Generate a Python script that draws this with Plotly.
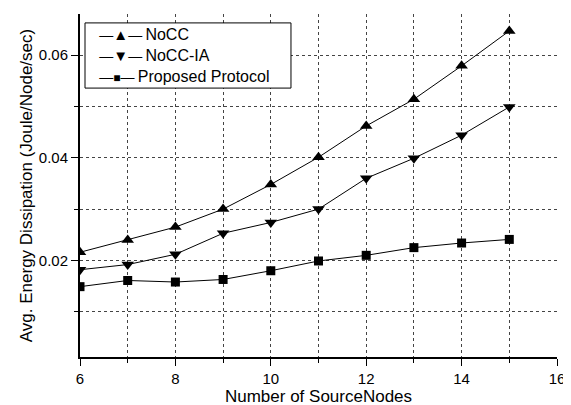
import plotly.graph_objects as go

x_nodes = [6, 7, 8, 9, 10, 11, 12, 13, 14, 15]
nocc = [0.0216, 0.0240, 0.0265, 0.0300, 0.0348, 0.0401, 0.0462, 0.0514, 0.0579, 0.0647]
nocc_ia = [0.0182, 0.0192, 0.0212, 0.0253, 0.0274, 0.0300, 0.0360, 0.0399, 0.0444, 0.0499]
proposed = [0.0149, 0.0161, 0.0158, 0.0163, 0.0180, 0.0199, 0.0210, 0.0225, 0.0234, 0.0241]

series_names = ["NoCC", "NoCC-IA", "Proposed Protocol"]
series_glyphs = ["▲", "▼", "■"]

x_major = [6, 8, 10, 12, 14, 16]
y_major = [0.02, 0.04, 0.06]

font_family = "Liberation Sans, Arial, sans-serif"

fig = go.Figure()
series = [
    (series_names[0], nocc, "triangle-up", 11),
    (series_names[1], nocc_ia, "triangle-down", 11),
    (series_names[2], proposed, "square", 9),
]
for name, vals, sym, sz in series:
    fig.add_trace(go.Scatter(
        x=x_nodes, y=vals, name=name, mode="lines+markers",
        line=dict(color="black", width=1),
        marker=dict(symbol=sym, size=sz, color="black"),
        showlegend=False,
    ))

# Origin-style legend: framed box with text entries
fig.add_shape(
    type="rect", xref="paper", yref="paper",
    x0=0.0105, x1=0.4423, y0=0.784, y1=0.974,
    line=dict(color="black", width=1), fillcolor="white", layer="above",
)
glyph_sizes = [15, 15, 12]
legend_lines = []
for name, g, gs in zip(series_names, series_glyphs, glyph_sizes):
    legend_lines.append(
        "\u00a0\u00a0\u00a0<span style='font-size:14px'>—</span>"
        "<span style='font-size:%dpx'>%s</span>"
        "<span style='font-size:14px'>—</span>\u2009%s" % (gs, g, name)
    )
fig.add_annotation(
    xref="paper", yref="paper", x=0.0105, y=0.968,
    xanchor="left", yanchor="top", showarrow=False,
    text="<br>".join(legend_lines), align="left",
    font=dict(size=16, family=font_family, color="black"),
    borderpad=0,
)

# page is offset 8px by body margin; compensate
fig.update_layout(
    width=571, height=405,
    margin=dict(l=72, r=22, t=6, b=56),
    paper_bgcolor="white", plot_bgcolor="white",
    font=dict(family=font_family, size=15, color="black"),
    showlegend=False,
)
grid_common = dict(
    showline=True, linecolor="black", linewidth=2,
    ticks="outside", ticklen=7, tickwidth=1, tickcolor="black",
    showgrid=True, gridcolor="#444444", griddash="dot", gridwidth=1,
    zeroline=False, automargin=False,
)
fig.update_xaxes(
    range=[6, 16], tickmode="array", tickvals=x_major,
    minor=dict(dtick=1, tick0=6, ticks="outside", ticklen=4, tickcolor="black",
               showgrid=True, gridcolor="#444444", griddash="dot", gridwidth=1),
    title=dict(text="Number of SourceNodes", font=dict(size=17), standoff=4),
    tickfont=dict(size=15),
    **grid_common,
)
fig.update_yaxes(
    range=[0.0012, 0.068], tickmode="array", tickvals=y_major,
    minor=dict(dtick=0.01, tick0=0, ticks="outside", ticklen=4, tickcolor="black",
               showgrid=True, gridcolor="#444444", griddash="dot", gridwidth=1),
    title=dict(text="Avg. Energy Dissipation (Joule/Node/sec)", font=dict(size=17), standoff=2),
    tickfont=dict(size=15),
    **grid_common,
)

fig.write_html("out.html")
